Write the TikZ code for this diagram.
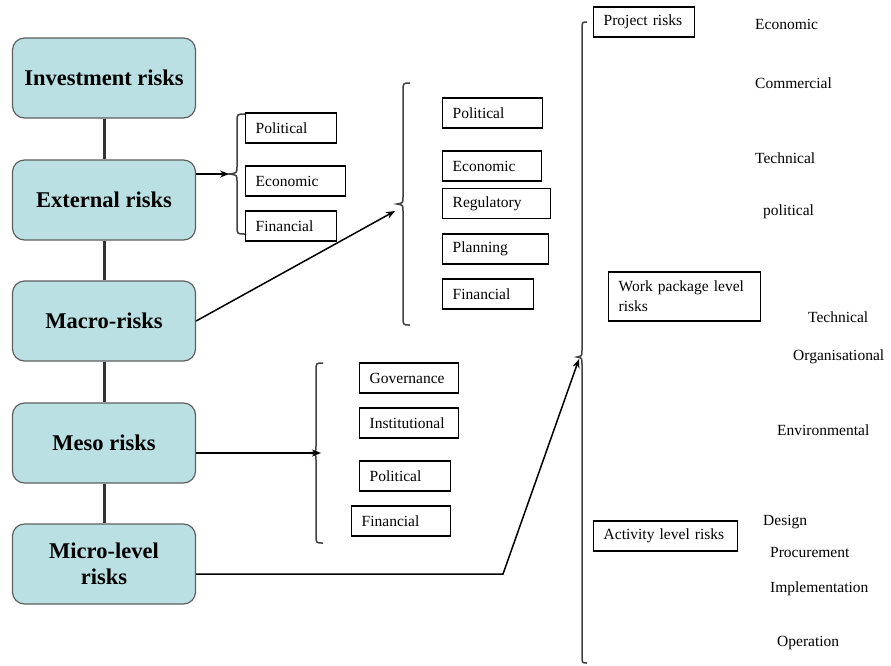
\documentclass[tikz,border=0pt]{standalone}
\usepackage{fontspec}
\setmainfont{Liberation Serif}
\usetikzlibrary{arrows.meta}
\definecolor{boxfill}{RGB}{187,224,227}
\definecolor{boxline}{RGB}{95,95,95}
\newcommand{\mybrace}[6]{% tip x, spine x, end x, top y, tip y, bottom y
  \draw[brc] (#3,#4) .. controls (#2,#4) .. (#2,#4+8) -- (#2,#5-7)
    .. controls (#2,#5-1) .. (#1,#5) .. controls (#2,#5+1) .. (#2,#5+7)
    -- (#2,#6-8) .. controls (#2,#6) .. (#3,#6);}
\begin{document}
\begin{tikzpicture}[x=1pt,y=-1pt,
  bigbox/.style={draw=boxline, fill=boxfill, rounded corners=12pt, minimum width=183pt,
    minimum height=80pt, line width=1.2pt, font=\fontsize{22.5}{26}\selectfont\bfseries,
    align=center, inner sep=0pt},
  sbox/.style={draw, line width=1.4pt, minimum height=30pt, inner xsep=10pt, inner ysep=0pt,
    align=left, font=\fontsize{15.5}{20}\selectfont, anchor=west},
  lbl/.style={font=\fontsize{15.5}{18}\selectfont, anchor=west, inner sep=0pt},
  vline/.style={line width=3pt, draw=black!80},
  arr/.style={line width=1.5pt, -{Stealth[length=9pt,width=7pt]}},
  brc/.style={line width=1.5pt, draw=black!75},
]
\useasboundingbox (0,0) rectangle (891,665);

% left column
\node[bigbox] (inv) at (104,78) {Investment risks};
\node[bigbox] (ext) at (104,200) {External risks};
\node[bigbox] (mac) at (104,321) {Macro-risks};
\node[bigbox] (mes) at (104,443) {Meso risks};
\node[bigbox] (mic) at (104,564) {Micro-level\\risks};
\draw[vline] (inv) -- (ext);
\draw[vline] (ext) -- (mac);
\draw[vline] (mac) -- (mes);
\draw[vline] (mes) -- (mic);

% external group
\node[sbox, text width=71pt] (e1) at (245,128) {Political};
\node[sbox, text width=80pt] (e2) at (245,181) {Economic};
\node[sbox, text width=71pt] (e3) at (245,226) {Financial};
\mybrace{229}{237}{245}{114}{174}{234}
\coordinate (t1) at (229,174);
\draw[arr] (ext.east |- t1) -- (t1);

% macro group
\node[sbox, text width=80pt] (m1) at (442,113) {Political};
\node[sbox, text width=79pt] (m2) at (442,166) {Economic};
\node[sbox, text width=88pt] (m3) at (442,203.5) {Regulatory};
\node[sbox, text width=86pt] (m4) at (442,249) {Planning};
\node[sbox, text width=71pt] (m5) at (442,294) {Financial};
\mybrace{397}{403}{410}{83}{204}{325}
\coordinate (t2) at (395,211);
\draw[arr] (mac.east) -- (t2);

% meso group
\node[sbox, text width=79pt] (s1) at (359,378) {Governance};
\node[sbox, text width=79pt] (s2) at (359,423) {Institutional};
\node[sbox, text width=71pt] (s3) at (359,476) {Political};
\node[sbox, text width=79pt] (s4) at (351,521) {Financial};
\mybrace{309}{316}{323}{363}{453}{543}
\coordinate (t3) at (321,453);
\draw[arr] (mes.east |- t3) -- (t3);

% micro group
\mybrace{577}{582}{587}{22}{357}{663}
\coordinate (k) at (503,574);
\coordinate (t4) at (579,359);
\draw[arr] (mic.east |- k) -- (k) -- (t4);

\node[sbox, text width=81pt] (pr) at (593,22) {Project risks};
\node[sbox, text width=132pt, minimum height=49pt] (wp) at (608,296.5) {Work package level\\risks};
\node[sbox, text width=124pt] (ac) at (593,536) {Activity level risks};

\node[lbl] (l1) at (755,24) {Economic};
\node[lbl] (l2) at (755,83) {Commercial};
\node[lbl] (l3) at (755,158) {Technical};
\node[lbl] (l4) at (763,212) {political};
\node[lbl] (l5) at (808,317) {Technical};
\node[lbl] (l6) at (793,357) {Organisational};
\node[lbl] (l7) at (777,430) {Environmental};
\node[lbl] (l8) at (763,522) {Design};
\node[lbl] (l9) at (770,552) {Procurement};
\node[lbl] (l10) at (770,589) {Implementation};
\node[lbl] (l11) at (777,643) {Operation};
\end{tikzpicture}
\end{document}
